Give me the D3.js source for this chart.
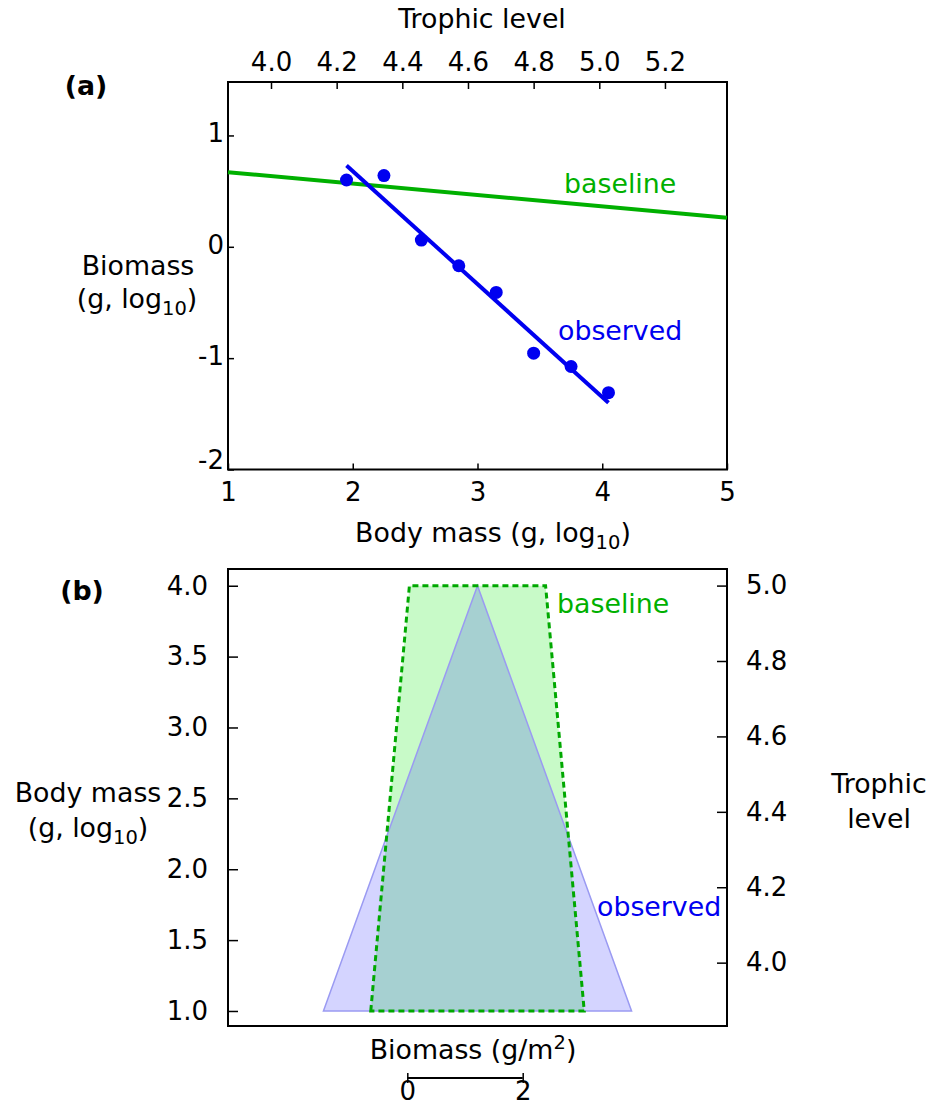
<!DOCTYPE html>
<html>
<head>
<meta charset="utf-8">
<script src="https://cdn.jsdelivr.net/npm/d3@7"></script>
<style>
  body { margin: 0; background: #fff; }
  svg { display: block; font-family: "DejaVu Sans", sans-serif; }
</style>
</head>
<body>
<svg id="chart" width="934" height="1107"></svg>
<script>
// ---------- data ----------
// Panel (a): observed points (body mass log10, biomass log10)
const obsMass    = [1.95, 2.25, 2.55, 2.85, 3.15, 3.45, 3.75, 4.05];
const obsBiomass = [0.60, 0.64, 0.06, -0.17, -0.41, -0.955, -1.075, -1.31];
// fitted lines
const obsFitMass = [1.95, 4.05];
const obsFitBio  = [0.73, -1.40];
const baseFitMass = [1, 5];
const baseFitBio  = [0.67, 0.26];
// axis ticks
const aXTicks  = [1, 2, 3, 4, 5];
const aYTicks  = [-2, -1, 0, 1];
const aTLTicks = [4.0, 4.2, 4.4, 4.6, 4.8, 5.0, 5.2];
// Panel (b): pyramids (half-width in g/m2 at each body-mass level)
const pyrMass        = [1, 4];
const obsHalfWidth   = [2.67, 0];
const baseHalfWidth  = [1.85, 1.18];
const bYTicks  = [1.0, 1.5, 2.0, 2.5, 3.0, 3.5, 4.0];
const bTLTicks = [4.0, 4.2, 4.4, 4.6, 4.8, 5.0];
const scaleBarTicks = [0, 2];

// ---------- setup ----------
const svg = d3.select("#chart");
const FS = 26;      // tick labels
const FL = 26.8;    // axis titles / annotations
const GREEN = "#00b000", BLUE = "#0000f0";

// ===== Panel (a) =====
const aL = 228, aR = 727, aT = 82, aB = 469.5;
const xA = d3.scaleLinear().domain([1, 5]).range([aL, aR]);
const yA = d3.scaleLinear().domain([-2, 1.48]).range([aB, aT]);
const tlA = d3.scaleLinear().domain([3.869, 5.389]).range([aL, aR]);

const gA = svg.append("g");
gA.append("rect").attr("x", aL).attr("y", aT).attr("width", aR - aL).attr("height", aB - aT)
  .attr("fill", "none").attr("stroke", "#000").attr("stroke-width", 2);

function styleAxis(g) {
  g.select(".domain").remove();
  g.selectAll(".tick line").attr("stroke", "#000").attr("stroke-width", 1.5);
  g.selectAll(".tick text").attr("font-size", FS).attr("fill", "#000").attr("font-family", "DejaVu Sans");
}

// bottom axis (ticks inward)
gA.append("g").attr("transform", `translate(0,${aB})`)
  .call(d3.axisBottom(xA).tickValues(aXTicks).tickFormat(d3.format("d")).tickSizeInner(-6).tickSizeOuter(0).tickPadding(13))
  .call(styleAxis);
// left axis
gA.append("g").attr("transform", `translate(${aL},0)`)
  .call(d3.axisLeft(yA).tickValues(aYTicks).tickFormat(d => d).tickSizeInner(-6).tickSizeOuter(0).tickPadding(4))
  .call(styleAxis)
  .call(g => g.selectAll(".tick text").attr("dy", "0.32em")
    .attr("y", d => (d === -2 ? -9 : -2)));
// top axis trophic level
gA.append("g").attr("transform", `translate(0,${aT})`)
  .call(d3.axisTop(tlA).tickValues(aTLTicks).tickFormat(d3.format(".1f")).tickSizeInner(-7).tickSizeOuter(0).tickPadding(11))
  .call(styleAxis);

// baseline line
const lineA = d3.line().x(d => xA(d[0])).y(d => yA(d[1]));
gA.append("path").datum(d3.zip(baseFitMass, baseFitBio)).attr("d", lineA)
  .attr("stroke", GREEN).attr("stroke-width", 4).attr("fill", "none");
// observed points
gA.selectAll("circle.obs").data(d3.zip(obsMass, obsBiomass)).join("circle")
  .attr("class", "obs").attr("cx", d => xA(d[0])).attr("cy", d => yA(d[1])).attr("r", 6.5)
  .attr("fill", BLUE);
// observed fit
gA.append("path").datum(d3.zip(obsFitMass, obsFitBio)).attr("d", lineA)
  .attr("stroke", BLUE).attr("stroke-width", 4).attr("fill", "none");

// labels panel a
gA.append("text").attr("x", 564).attr("y", 193).attr("font-size", FL).attr("fill", GREEN).text("baseline");
gA.append("text").attr("x", 558).attr("y", 340).attr("font-size", FL).attr("fill", BLUE).text("observed");
gA.append("text").attr("x", 482).attr("y", 28).attr("font-size", FL).attr("text-anchor", "middle").text("Trophic level");
gA.append("text").attr("x", 86).attr("y", 95).attr("font-size", FL).attr("font-weight", "bold").attr("text-anchor", "middle").text("(a)");

function log10Label(g, x, y, prefix, suffix, anchor) {
  const t = g.append("text").attr("x", x).attr("y", y).attr("font-size", FL).attr("text-anchor", anchor || "middle");
  t.append("tspan").text(prefix);
  t.append("tspan").attr("font-size", 19.5).attr("dy", 7).text("10");
  t.append("tspan").attr("dy", -7).text(suffix);
  return t;
}
log10Label(gA, 493, 542, "Body mass (g, log", ")");
gA.append("text").attr("x", 138).attr("y", 275).attr("font-size", FL).attr("text-anchor", "middle").text("Biomass");
log10Label(gA, 137, 308, "(g, log", ")");

// ===== Panel (b) =====
const bL = 228, bR = 727, bT = 569, bB = 1026;
const yB = d3.scaleLinear().domain([0.894, 4.118]).range([bB, bT]);
const tlB = d3.scaleLinear().domain([3.832, 5.044]).range([bB, bT]);
const xB = d3.scaleLinear().domain([-4.324, 4.324]).range([bL, bR]);

const gB = svg.append("g");

function pyramid(half) {
  const left = pyrMass.map((m, i) => [-half[i], m]);
  const right = pyrMass.map((m, i) => [half[i], m]).reverse();
  return left.concat(right);
}
const areaLine = d3.line().x(d => xB(d[0])).y(d => yB(d[1])).curve(d3.curveLinearClosed);

// baseline fill
gB.append("path").datum(pyramid(baseHalfWidth)).attr("d", areaLine)
  .attr("fill", "#c8fac8").attr("stroke", "none");
// observed fill + outline
gB.append("path").datum(pyramid(obsHalfWidth)).attr("d", areaLine)
  .attr("fill", "rgba(0,0,255,0.17)").attr("stroke", "#9a9af2").attr("stroke-width", 1.5);
// baseline dashed outline
gB.append("path").datum(pyramid(baseHalfWidth)).attr("d", areaLine)
  .attr("fill", "none").attr("stroke", "#00a800").attr("stroke-width", 3).attr("stroke-dasharray", "6,4");

gB.append("rect").attr("x", bL).attr("y", bT).attr("width", bR - bL).attr("height", bB - bT)
  .attr("fill", "none").attr("stroke", "#000").attr("stroke-width", 2);

gB.append("g").attr("transform", `translate(${bL},0)`)
  .call(d3.axisLeft(yB).tickValues(bYTicks).tickFormat(d3.format(".1f")).tickSizeInner(-10).tickSizeOuter(0).tickPadding(20))
  .call(styleAxis);
gB.append("g").attr("transform", `translate(${bR},0)`)
  .call(d3.axisRight(tlB).tickValues(bTLTicks).tickFormat(d3.format(".1f")).tickSizeInner(-10).tickSizeOuter(0).tickPadding(19))
  .call(styleAxis);

gB.append("text").attr("x", 557).attr("y", 613).attr("font-size", FL).attr("fill", GREEN).text("baseline");
gB.append("text").attr("x", 597).attr("y", 916).attr("font-size", FL).attr("fill", BLUE).text("observed");
gB.append("text").attr("x", 82).attr("y", 600).attr("font-size", FL).attr("font-weight", "bold").attr("text-anchor", "middle").text("(b)");

gB.append("text").attr("x", 88).attr("y", 802).attr("font-size", FL).attr("text-anchor", "middle").text("Body mass");
log10Label(gB, 88, 837, "(g, log", ")");
gB.append("text").attr("x", 879).attr("y", 793).attr("font-size", FL).attr("text-anchor", "middle").text("Trophic");
gB.append("text").attr("x", 879).attr("y", 828).attr("font-size", FL).attr("text-anchor", "middle").text("level");

// x label with superscript
const xlb = gB.append("text").attr("x", 473).attr("y", 1059).attr("font-size", FL).attr("text-anchor", "middle");
xlb.append("tspan").text("Biomass (g/m");
xlb.append("tspan").attr("font-size", 19.5).attr("dy", -10).text("2");
xlb.append("tspan").attr("dy", 10).text(")");

// scale bar
const barScale = d3.scaleLinear().domain([0, 2]).range([0, xB(2) - xB(0)]);
const gBar = gB.append("g").attr("transform", `translate(407.3,1078)`);
gBar.call(d3.axisBottom(barScale).tickValues(scaleBarTicks).tickFormat(d3.format("d")).tickSizeInner(5).tickSizeOuter(0).tickPadding(-1))
  .call(g => g.select(".domain").attr("stroke", "#000").attr("stroke-width", 2).attr("d", `M0,0H${barScale(2)}`))
  .call(g => g.selectAll(".tick line").attr("stroke", "#000").attr("stroke-width", 1.5).attr("y1", -5).attr("y2", 5))
  .call(g => g.selectAll(".tick text").attr("font-size", FS).attr("fill", "#000").attr("font-family", "DejaVu Sans"));
</script>
</body>
</html>
